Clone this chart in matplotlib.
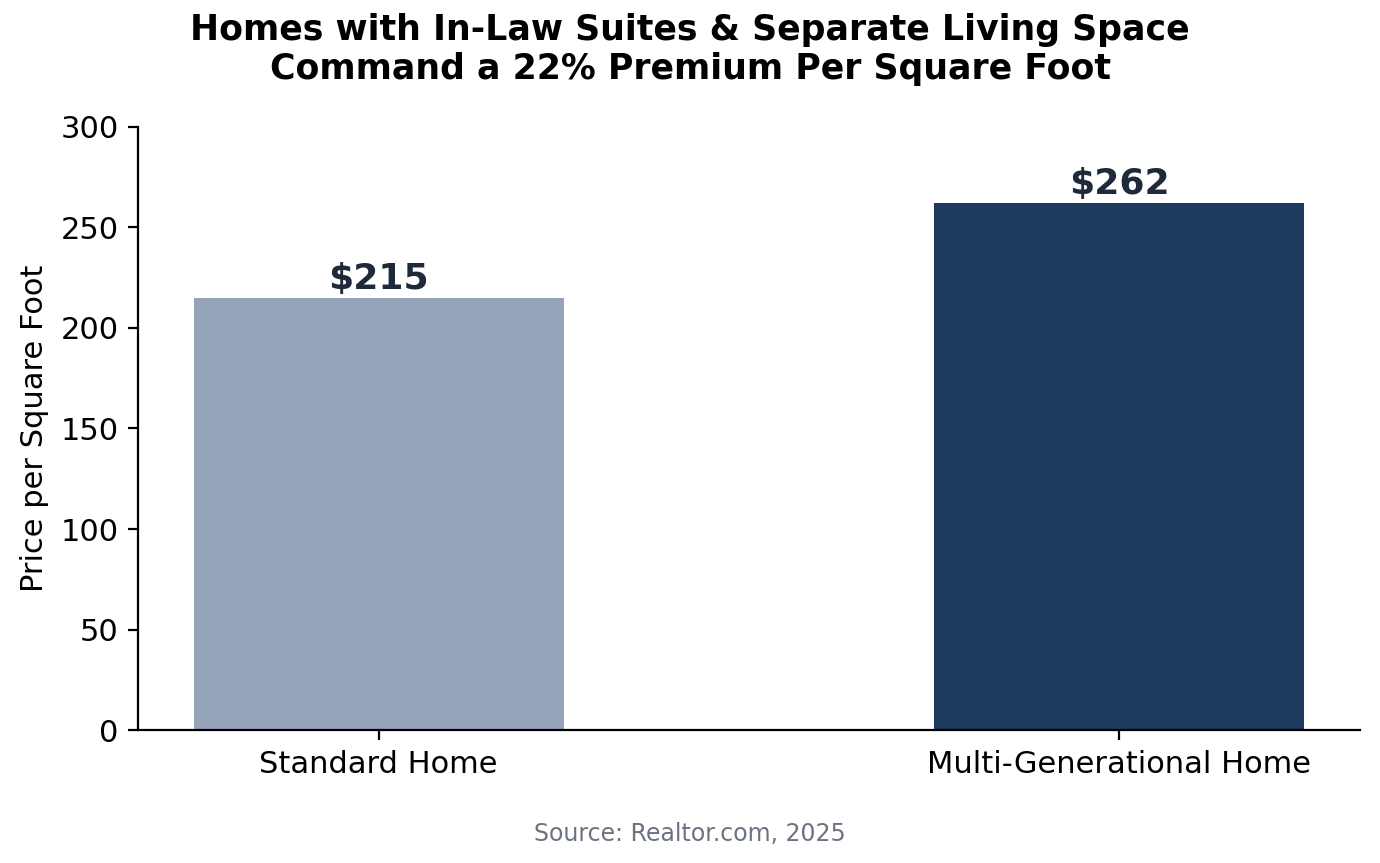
import matplotlib
matplotlib.use("Agg")
import matplotlib.pyplot as plt

categories = ["Standard Home", "Multi-Generational Home"]
values = [215, 262]
colors = ["#94A3B8", "#1E3A5F"]

fig = plt.figure(figsize=(6.9, 4.315), dpi=200)
ax = fig.add_axes([0.1, 0.154, 0.8855, 0.699])

bars = ax.bar(categories, values, width=0.5, color=colors)
for b, v in zip(bars, values):
    ax.text(b.get_x() + b.get_width() / 2, v + 1, f"${v}", ha="center", va="bottom",
            fontsize=13, fontweight="bold", color="#1E293B")

ax.set_ylim(0, 300)
ax.set_ylabel("Price per Square Foot", fontsize=11)
ax.tick_params(labelsize=11)
ax.spines["top"].set_visible(False)
ax.spines["right"].set_visible(False)

fig.suptitle("Homes with In-Law Suites & Separate Living Space\nCommand a 22% Premium Per Square Foot",
             fontsize=12.5, fontweight="bold", y=0.985)
fig.text(0.5, 0.025, "Source: Realtor.com, 2025", ha="center", fontsize=8.5, color="#6B7280")

fig.savefig("out.png", dpi=200)
